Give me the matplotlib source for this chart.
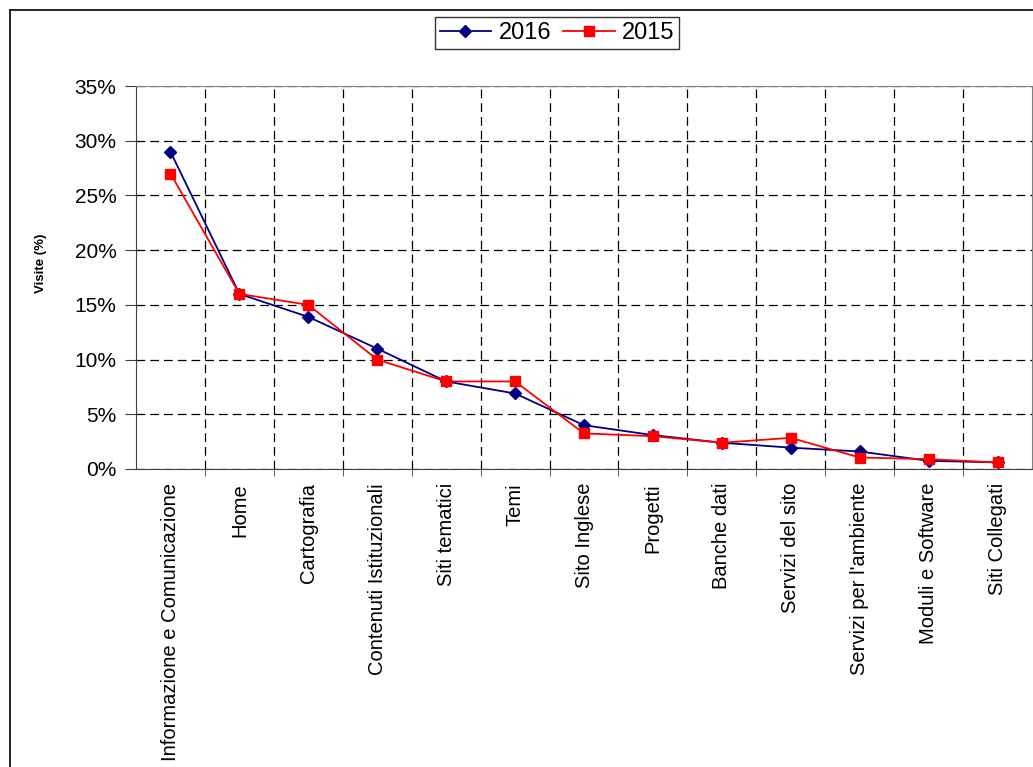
import matplotlib
matplotlib.use('Agg')
import matplotlib.pyplot as plt
from matplotlib.lines import Line2D
from matplotlib.ticker import FuncFormatter

plt.rcParams['font.family'] = ['Liberation Sans', 'DejaVu Sans']

categories = ['Informazione e Comunicazione', 'Home', 'Cartografia', 'Contenuti Istituzionali',
              'Siti tematici', 'Temi', 'Sito Inglese', 'Progetti', 'Banche dati',
              'Servizi del sito', "Servizi per l'ambiente", 'Moduli e Software', 'Siti Collegati']
visite_2016 = [29.0, 16.0, 13.9, 11.0, 8.0, 6.9, 4.0, 3.1, 2.4, 1.95, 1.6, 0.75, 0.6]
visite_2015 = [27.0, 16.0, 15.0, 10.0, 8.0, 8.0, 3.25, 3.0, 2.4, 2.85, 1.05, 0.9, 0.6]

W, H = 1033, 767
fig = plt.figure(figsize=(W / 100, H / 100), dpi=100)
ax = fig.add_axes([136 / W, 1 - 469 / H, (1032 - 136) / W, (469 - 86) / H])

x = list(range(len(categories)))
ax.plot(x, visite_2016, color='#000080', marker='D', markersize=6, lw=1.3, label='2016', zorder=3)
ax.plot(x, visite_2015, color='#ff0000', marker='s', markersize=7, lw=1.3, label='2015', zorder=4)

ax.set_xlim(-0.5, len(categories) - 0.5)
ax.set_ylim(0, 35)
ax.set_yticks(range(0, 36, 5))
ax.yaxis.set_major_formatter(FuncFormatter(lambda v, p: '{:.0f}%'.format(v)))
ax.set_xticks(x)
ax.set_xticklabels(categories, rotation=90, va='top', ha='center', fontsize=14.5)
ax.set_xticks([i + 0.5 for i in x[:-1]], minor=True)
ax.tick_params(axis='x', which='major', length=0, pad=10)
ax.tick_params(axis='x', which='minor', length=5, direction='out', color='#404040')
ax.tick_params(axis='y', length=8, direction='out', labelsize=15, pad=6, color='#404040')

ax.grid(True, axis='y', which='major', color='black', ls=(0, (7, 4)), lw=0.9)
ax.grid(True, axis='x', which='minor', color='black', ls=(0, (7, 4)), lw=0.9)
for s in ['top', 'right']:
    ax.spines[s].set_color('#808080')
for s in ['left', 'bottom']:
    ax.spines[s].set_color('#404040')

ax.set_ylabel('Visite (%)', fontsize=9.5, fontweight='bold')
ax.yaxis.set_label_coords(-0.099, 0.538)

leg = fig.legend(loc='center', bbox_to_anchor=(557 / W, 1 - 33 / H), ncol=2, fontsize=17,
                 frameon=True, fancybox=False, edgecolor='black', handlelength=2.2,
                 columnspacing=0.5, handletextpad=0.3, borderpad=0.2)
leg.get_frame().set_linewidth(1)

# outer chart border
fig.add_artist(Line2D([10 / W, 10 / W], [0, 1 - 10 / H], color='black', lw=1.2))
fig.add_artist(Line2D([10 / W, 1], [1 - 10 / H, 1 - 10 / H], color='black', lw=1.2))

fig.savefig('out.png', dpi=100)
